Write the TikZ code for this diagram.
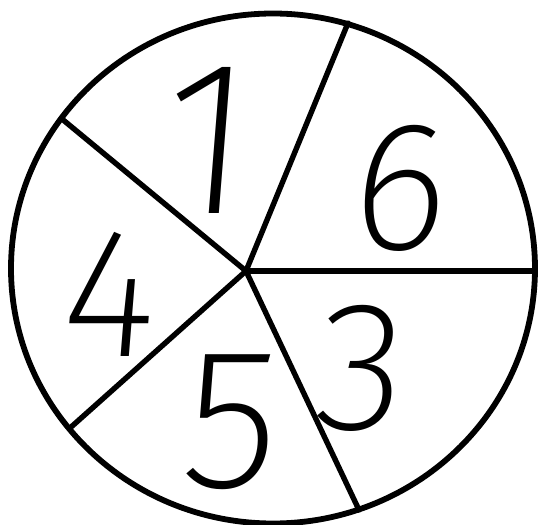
\documentclass[tikz,border=0pt]{standalone}
\usepackage{fontspec}
\newfontfamily\handfont{Fira Sans ExtraLight}
\usetikzlibrary{positioning}

\begin{document}
\begin{tikzpicture}[
    x=0.5pt, y=-0.5pt,
    rim/.style={draw=black, line width=2.9pt},
    spoke/.style={draw=black, line width=2.7pt, line cap=round},
    digit/.style={font=\fontsize{92}{92}\selectfont\handfont, inner sep=0pt, xslant=0.08}
]
    \useasboundingbox (0,0) rectangle (538,525);

    % spinner rim
    \draw[rim] (273,268.5) ellipse [x radius=262, y radius=255];

    % hub and the ends of the spokes on the rim
    \coordinate (hub) at (246,271);
    \coordinate (top) at (348,23);
    \coordinate (right) at (535,271);
    \coordinate (bottom) at (359,510);
    \coordinate (lowleft) at (70,428);
    \coordinate (upleft) at (62,119);

    \draw[spoke] (hub) -- (top);
    \draw[spoke] (hub) -- (right);
    \draw[spoke] (hub) -- (bottom);
    \draw[spoke] (hub) -- (lowleft);
    \draw[spoke] (hub) -- (upleft);

    % sector numbers
    \node[digit, font=\fontsize{110}{110}\selectfont\handfont] (one) at (208,140) {1};
    \node[digit] (six) at (401,188) {6};
    \node[digit] (four) at (111,294) {4};
    \node[digit] (three) at (362,368) {3};
    \node[digit, font=\fontsize{100}{100}\selectfont\handfont] (five) at (232,422) {5};
\end{tikzpicture}
\end{document}
